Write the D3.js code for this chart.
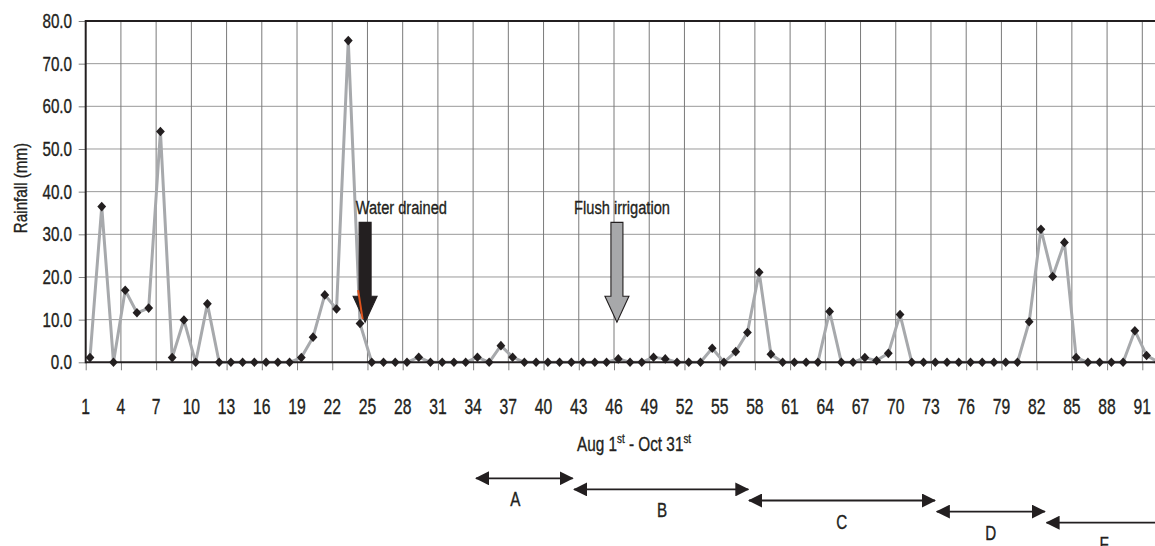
<!DOCTYPE html>
<html>
<head>
<meta charset="utf-8">
<script src="https://cdn.jsdelivr.net/npm/d3@7"></script>
<style>
  html, body { margin: 0; padding: 0; background: #fff; overflow: hidden; }
  svg { display: block; }
  text { font-family: "Liberation Sans", Arial, sans-serif; fill: #231f20; stroke: #231f20; stroke-width: 0.35px; }
</style>
</head>
<body>
<svg id="chart" width="1155" height="546"></svg>
<script>
// Daily rainfall, Aug 1st - Oct 31st (day 1..92), in mm
const days = d3.range(1, 93);
const rainfall = [
  1.1, 36.5, 0, 16.9, 11.6, 12.7, 54.1, 1.1, 9.9, 0,
  13.7, 0, 0, 0, 0, 0, 0, 0, 1.1, 5.9,
  15.8, 12.5, 75.4, 9.1, 0, 0, 0, 0, 1.2, 0,
  0, 0, 0, 1.2, 0, 3.9, 1.2, 0, 0, 0,
  0, 0, 0, 0, 0, 0.8, 0, 0, 1.2, 0.8,
  0, 0, 0, 3.3, 0, 2.5, 7.0, 21.1, 1.9, 0,
  0, 0, 0, 11.9, 0, 0, 1.1, 0.4, 2.1, 11.2,
  0, 0, 0, 0, 0, 0, 0, 0, 0, 0,
  9.5, 31.2, 20.1, 28.1, 1.1, 0, 0, 0, 0, 7.4,
  1.6, 0
];

// Axis ticks
const yTicks = [0, 10, 20, 30, 40, 50, 60, 70, 80];
const xTickDays = d3.range(1, 92, 3);

// Field events (day of the arrow tip, rainfall level of the shaft top and tip)
const eventNames = ["Water drained", "Flush irrigation"];
const eventDays = [24.8, 46.25];
const eventLabelDays = [24.0, 42.6];
const eventTop = [32.8, 32.8];
const eventTip = [9.4, 9.4];
const eventFills = ["#231f20", "#a7a8aa"];

// Sampling periods along the season
const periodNames = ["A", "B", "C", "D", "F"];
const periodStart = [34.25, 42.6, 57.5, 73.5, 82.85];
const periodEnd = [42.48, 57.44, 73.34, 82.7, 93.6];
const periodLabelDays = [37.6, 50.1, 65.4, 78.1, 87.75];

// ---------- layout ----------
const W = 1155, H = 546;
const plotLeft = 85.7, plotTop = 21, plotBottom = 362.3;
const x = d3.scaleLinear().domain([1, 91]).range([plotLeft, 1142.3]);
const y = d3.scaleLinear().domain([0, 80]).range([plotBottom, plotTop]);
const POINT_SHIFT = 0.366;           // daily readings sit just right of the day gridline
const px = d => x(d + POINT_SHIFT);

const svg = d3.select("#chart");
const ink = "#231f20";
const NARROW = 0.78;                 // condensed lettering

// narrow, tall text helper
function label(g, txt, tx, ty, size, anchor, sx = NARROW) {
  return g.append("text")
    .attr("transform", `translate(${tx},${ty}) scale(${sx},1)`)
    .attr("font-size", size)
    .attr("text-anchor", anchor)
    .text(txt);
}

// ---------- grid ----------
const grid = svg.append("g");
grid.selectAll("line.h").data(yTicks.filter(v => v > 0 && v < 80)).join("line")
  .attr("class", "h")
  .attr("x1", plotLeft).attr("x2", W)
  .attr("y1", d => y(d)).attr("y2", d => y(d))
  .attr("stroke", "#9a9a9a").attr("stroke-width", 1);
grid.selectAll("line.v").data(xTickDays.filter(d => d > 1)).join("line")
  .attr("class", "v")
  .attr("x1", d => x(d)).attr("x2", d => x(d))
  .attr("y1", plotTop).attr("y2", plotBottom)
  .attr("stroke", "#7a7a7a").attr("stroke-width", 1);

// ---------- axes ----------
const yAxis = svg.append("g").attr("transform", `translate(${plotLeft},0)`)
  .call(d3.axisLeft(y).tickValues(yTicks).tickSize(7).tickFormat(d3.format(".1f")));
yAxis.select(".domain").remove();
yAxis.selectAll(".tick line").attr("stroke", "#808080");
yAxis.selectAll(".tick text").remove();
yTicks.forEach(v => label(svg, d3.format(".1f")(v), 72, y(v) + 7, 19.5, "end", 0.78));

const xAxis = svg.append("g").attr("transform", `translate(0,${plotBottom})`)
  .call(d3.axisBottom(x).tickValues(xTickDays).tickSize(8));
xAxis.select(".domain").remove();
xAxis.selectAll(".tick line").attr("stroke", "#808080");
xAxis.selectAll(".tick text").remove();
xTickDays.forEach(d => label(svg, String(d), x(d), 414, 21.5, "middle", 0.73));

// ---------- series ----------
const line = d3.line().x((v, i) => px(days[i])).y(v => y(v));
svg.append("path").datum(rainfall)
  .attr("d", line)
  .attr("fill", "none").attr("stroke", "#a7a9ac")
  .attr("stroke-width", 3).attr("stroke-linejoin", "round");

// frame: top border, value axis and category axis
svg.append("line").attr("x1", plotLeft).attr("x2", W).attr("y1", plotTop).attr("y2", plotTop)
  .attr("stroke", ink).attr("stroke-width", 2);
svg.append("line").attr("x1", plotLeft).attr("x2", plotLeft).attr("y1", plotTop - 1).attr("y2", plotBottom + 1)
  .attr("stroke", ink).attr("stroke-width", 2);
svg.append("line").attr("x1", plotLeft).attr("x2", W).attr("y1", plotBottom).attr("y2", plotBottom)
  .attr("stroke", ink).attr("stroke-width", 2);

// markers
svg.append("g").selectAll("path").data(rainfall).join("path")
  .attr("transform", (v, i) => `translate(${px(days[i])},${y(v)})`)
  .attr("d", "M0,-4.8L4.4,0L0,4.8L-4.4,0Z")
  .attr("fill", ink);

// ---------- event arrows ----------
eventNames.forEach((name, i) => {
  const cx = x(eventDays[i]);
  const y0 = y(eventTop[i]), y1 = y(eventTip[i]);
  const sw = 6, hw = 12, hl = 26;
  const pts = [
    [cx - sw, y0], [cx + sw, y0], [cx + sw, y1 - hl], [cx + hw, y1 - hl],
    [cx, y1], [cx - hw, y1 - hl], [cx - sw, y1 - hl]
  ];
  svg.append("polygon")
    .attr("points", pts.map(p => p.join(",")).join(" "))
    .attr("fill", eventFills[i]).attr("stroke", ink).attr("stroke-width", 1.1);
  if (i === 0) {
    // drainage flow trace along the head
    svg.append("path")
      .attr("d", `M${cx - 7},${y1 - 32}L${cx - 2.5},${y1 - 3}`)
      .attr("stroke", "#e0531c").attr("stroke-width", 2).attr("fill", "none");
  }
  label(svg, name, x(eventLabelDays[i]), 213.5, 19, "start", 0.77);
});

// ---------- axis titles ----------
svg.append("text")
  .attr("transform", `translate(27,188) rotate(-90) scale(0.8,1)`)
  .attr("font-size", 19).attr("text-anchor", "middle")
  .text("Rainfall (mm)");

const xt = svg.append("text")
  .attr("transform", `translate(634,450.5) scale(0.73,1)`)
  .attr("font-size", 21).attr("text-anchor", "middle");
xt.append("tspan").text("Aug 1");
xt.append("tspan").attr("font-size", 13.5).attr("dy", -8).text("st");
xt.append("tspan").attr("dy", 8).text(" - Oct 31");
xt.append("tspan").attr("font-size", 13.5).attr("dy", -8).text("st");

// ---------- sampling periods ----------
const defs = svg.append("defs");
defs.append("marker").attr("id", "head").attr("viewBox", "0 0 14 14")
  .attr("refX", 13).attr("refY", 7).attr("markerWidth", 14).attr("markerHeight", 14)
  .attr("markerUnits", "userSpaceOnUse").attr("orient", "auto-start-reverse")
  .append("path").attr("d", "M0,0L14,7L0,14Z").attr("fill", ink);

const rowY = i => 478.3 + i * 11.1;
periodNames.forEach((name, i) => {
  svg.append("line")
    .attr("x1", x(periodStart[i])).attr("x2", x(periodEnd[i]))
    .attr("y1", rowY(i)).attr("y2", rowY(i))
    .attr("stroke", ink).attr("stroke-width", 1.8)
    .attr("marker-start", "url(#head)").attr("marker-end", "url(#head)");
  label(svg, name, x(periodLabelDays[i]), rowY(i) + 28, 19.5, "middle", 0.78);
});
</script>
</body>
</html>
